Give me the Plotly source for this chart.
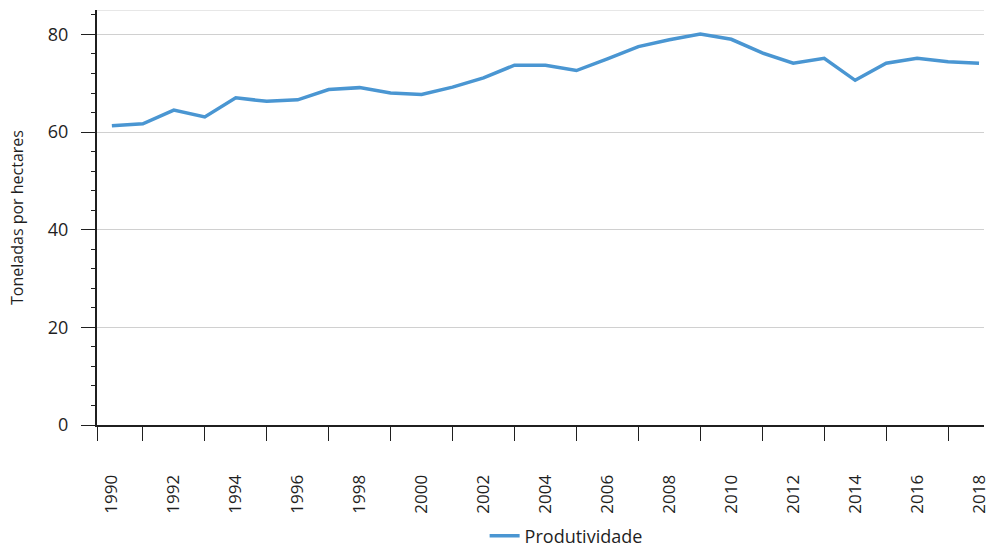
import plotly.graph_objects as go

years = list(range(1990, 2019))
produtividade = [61.3, 61.7, 64.5, 63.1, 67.0, 66.3, 66.6, 68.7, 69.1, 68.0,
                 67.7, 69.2, 71.1, 73.7, 73.7, 72.6, 75.0, 77.5, 78.9, 80.1,
                 79.0, 76.2, 74.1, 75.1, 70.6, 74.1, 75.1, 74.4, 74.1]
label_years = [y for y in years if y % 2 == 0]
tick_years = [y for y in years if y % 2 == 1]

x_range = [1989.52, 2018.16]
y_range = [0, 85]
font_family = "Open Sans, Noto Sans, sans-serif"
dark = "#1f1f1f"

fig = go.Figure()
fig.add_trace(go.Scatter(
    x=years, y=produtividade, mode="lines", name="Produtividade",
    line=dict(color="#4a96d2", width=3.5),
))

fig.update_layout(
    width=991, height=547,
    margin=dict(l=97, r=1, t=10, b=122),
    paper_bgcolor="white", plot_bgcolor="white",
    font=dict(family=font_family, size=17, color=dark),
    showlegend=True,
    legend=dict(orientation="h", x=0.437, xanchor="left",
                yref="container", y=0.02, yanchor="middle",
                font=dict(size=18, color=dark), bgcolor="rgba(0,0,0,0)"),
    xaxis=dict(
        range=x_range, tickmode="array", tickvals=label_years,
        ticktext=[str(y) for y in label_years], tickangle=-90,
        ticks="outside", ticklen=14, tickcolor="rgba(0,0,0,0)",
        ticklabelstandoff=27, ticklabeloverflow="allow",
        showline=True, linecolor=dark, linewidth=2, showgrid=False, zeroline=False,
        minor=dict(tickmode="array", tickvals=[x_range[0]] + tick_years,
                   ticks="outside", ticklen=14, tickcolor=dark, tickwidth=1, showgrid=False),
        tickfont=dict(size=17, color=dark),
    ),
    yaxis=dict(
        range=y_range, tickmode="array", tickvals=[0, 20, 40, 60, 80],
        ticks="outside", ticklen=14, tickcolor=dark, tickwidth=1,
        ticklabelstandoff=9,
        showline=True, linecolor=dark, linewidth=2,
        showgrid=True, gridcolor="#d0d0d0", gridwidth=1, zeroline=False,
        minor=dict(tickmode="linear", tick0=0, dtick=4, ticks="outside",
                   ticklen=4, tickcolor=dark, tickwidth=1, showgrid=False),
        title=dict(text="Toneladas por hectares", font=dict(size=16, color=dark), standoff=20),
        tickfont=dict(size=18, color=dark),
    ),
)
fig.add_shape(type="line", xref="paper", x0=0, x1=1, yref="y", y0=y_range[1], y1=y_range[1],
              line=dict(color="#d0d0d0", width=1), layer="below")

fig.write_html("out.html", config={"displayModeBar": False},
               post_script="document.body.style.margin='0';document.body.style.overflow='hidden';")
